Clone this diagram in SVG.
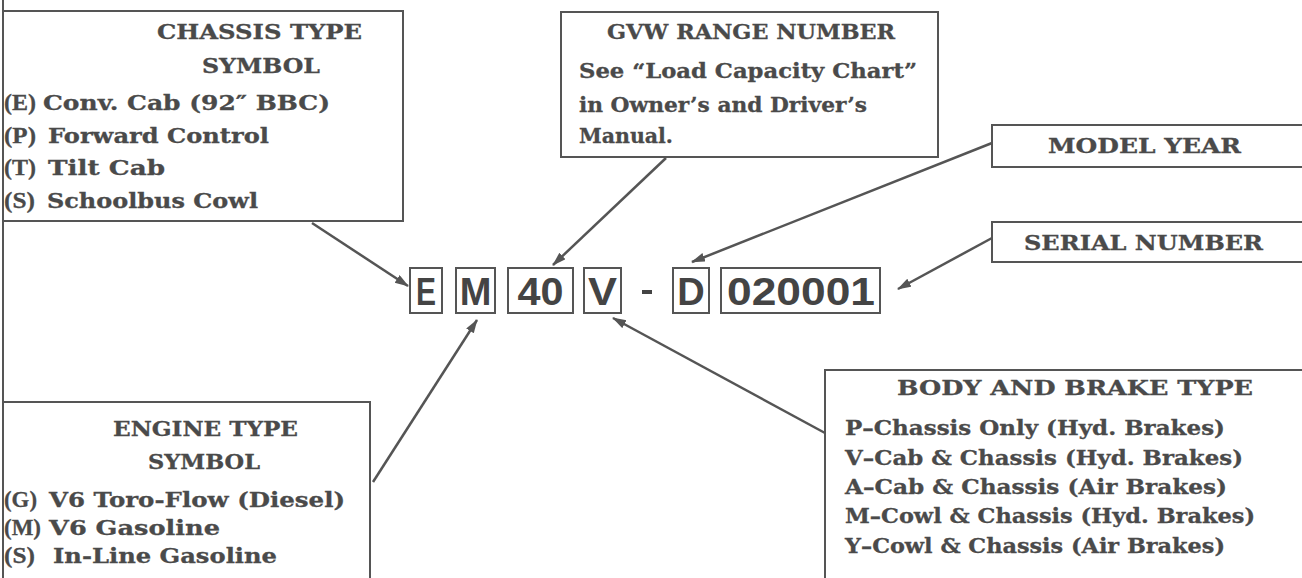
<svg xmlns="http://www.w3.org/2000/svg" width="1302" height="578" viewBox="0 0 1302 578">
<defs>
<style>
.bg{fill:#ffffff}
.box{fill:none;stroke:#555555;stroke-width:2}
.t{font-family:"DejaVu Serif","Liberation Serif",serif;font-weight:bold;font-size:20.5px;fill:#4a4a4a;stroke:#4a4a4a;stroke-width:0.3}
.k{font-family:"Liberation Serif","DejaVu Serif",serif;font-weight:bold;font-size:24px;fill:#4a4a4a;stroke:#4a4a4a;stroke-width:0.3}
.code{font-family:"Liberation Sans","DejaVu Sans",sans-serif;font-weight:bold;font-size:38px;fill:#444444;text-anchor:middle}
.cbox{fill:none;stroke:#555555;stroke-width:2}
.conn{stroke:#555555;stroke-width:2.5;fill:none;marker-end:url(#ah)}
</style>
<marker id="ah" markerUnits="userSpaceOnUse" markerWidth="14" markerHeight="10" refX="13" refY="4.5" orient="auto">
<path d="M0,0 L14,4.5 L0,9 z" fill="#555555"/>
</marker>
</defs>
<rect class="bg" x="0" y="0" width="1302" height="578"/>
<line x1="3" y1="0" x2="3" y2="578" stroke="#555555" stroke-width="2"/>

<g id="chassis">
<polyline class="box" points="3,11 403,11 403,221 3,221"/>
<text class="t" x="157" y="39" textLength="205" lengthAdjust="spacingAndGlyphs">CHASSIS  TYPE</text>
<text class="t" x="202" y="73" textLength="118" lengthAdjust="spacingAndGlyphs">SYMBOL</text>
<text class="k" x="4" y="110" textLength="32" lengthAdjust="spacingAndGlyphs">(E)</text>
<text class="t" x="43" y="110" textLength="287" lengthAdjust="spacingAndGlyphs">Conv. Cab (92″ BBC)</text>
<text class="k" x="4" y="143" textLength="32" lengthAdjust="spacingAndGlyphs">(P)</text>
<text class="t" x="48" y="143" textLength="221" lengthAdjust="spacingAndGlyphs">Forward Control</text>
<text class="k" x="4" y="175" textLength="32" lengthAdjust="spacingAndGlyphs">(T)</text>
<text class="t" x="48" y="175" textLength="117" lengthAdjust="spacingAndGlyphs">Tilt Cab</text>
<text class="k" x="4" y="208" textLength="31" lengthAdjust="spacingAndGlyphs">(S)</text>
<text class="t" x="47" y="208" textLength="211" lengthAdjust="spacingAndGlyphs">Schoolbus Cowl</text>
</g>

<g id="gvw">
<rect class="box" x="561" y="12" width="377" height="145"/>
<text class="t" x="607" y="39" textLength="288" lengthAdjust="spacingAndGlyphs">GVW RANGE NUMBER</text>
<text class="t" x="579" y="78" textLength="338" lengthAdjust="spacingAndGlyphs">See “Load Capacity Chart”</text>
<text class="t" x="579" y="112" textLength="288" lengthAdjust="spacingAndGlyphs">in Owner’s and Driver’s</text>
<text class="t" x="579" y="143" textLength="94" lengthAdjust="spacingAndGlyphs">Manual.</text>
</g>

<g id="modelyear">
<rect class="box" x="992" y="125" width="320" height="42"/>
<text class="t" x="1048" y="153" textLength="193" lengthAdjust="spacingAndGlyphs">MODEL  YEAR</text>
</g>

<g id="serial">
<rect class="box" x="992" y="222" width="320" height="40"/>
<text class="t" x="1024" y="250" textLength="239" lengthAdjust="spacingAndGlyphs">SERIAL  NUMBER</text>
</g>

<g id="engine">
<polyline class="box" points="3,402 370,402 370,580"/>
<text class="t" x="113" y="436" textLength="185" lengthAdjust="spacingAndGlyphs">ENGINE  TYPE</text>
<text class="t" x="148" y="469" textLength="112" lengthAdjust="spacingAndGlyphs">SYMBOL</text>
<text class="k" x="4" y="507" textLength="33" lengthAdjust="spacingAndGlyphs">(G)</text>
<text class="t" x="49" y="507" textLength="296" lengthAdjust="spacingAndGlyphs">V6 Toro-Flow (Diesel)</text>
<text class="k" x="4" y="535" textLength="37" lengthAdjust="spacingAndGlyphs">(M)</text>
<text class="t" x="49" y="535" textLength="171" lengthAdjust="spacingAndGlyphs">V6 Gasoline</text>
<text class="k" x="4" y="563" textLength="31" lengthAdjust="spacingAndGlyphs">(S)</text>
<text class="t" x="53" y="563" textLength="224" lengthAdjust="spacingAndGlyphs">In-Line Gasoline</text>
</g>

<g id="body">
<polyline class="box" points="825,580 825,370 1304,370"/>
<text class="t" x="897" y="395" textLength="356" lengthAdjust="spacingAndGlyphs">BODY  AND  BRAKE  TYPE</text>
<text class="t" x="845" y="435" textLength="380" lengthAdjust="spacingAndGlyphs">P–Chassis Only (Hyd. Brakes)</text>
<text class="t" x="845" y="465" textLength="398" lengthAdjust="spacingAndGlyphs">V–Cab &amp; Chassis (Hyd. Brakes)</text>
<text class="t" x="845" y="494" textLength="382" lengthAdjust="spacingAndGlyphs">A–Cab &amp; Chassis (Air Brakes)</text>
<text class="t" x="845" y="523" textLength="410" lengthAdjust="spacingAndGlyphs">M–Cowl &amp; Chassis (Hyd. Brakes)</text>
<text class="t" x="845" y="553" textLength="380" lengthAdjust="spacingAndGlyphs">Y–Cowl &amp; Chassis (Air Brakes)</text>
</g>

<g id="code">
<rect class="cbox" x="410" y="268" width="32" height="45"/>
<text class="code" x="426" y="305" textLength="20" lengthAdjust="spacingAndGlyphs">E</text>
<rect class="cbox" x="456" y="268" width="39" height="45"/>
<text class="code" x="475.5" y="305">M</text>
<rect class="cbox" x="508" y="268" width="65" height="45"/>
<text class="code" x="540.5" y="305" textLength="46" lengthAdjust="spacingAndGlyphs">40</text>
<rect class="cbox" x="584" y="268" width="37" height="45"/>
<text class="code" x="602.5" y="305" textLength="29" lengthAdjust="spacingAndGlyphs">V</text>
<rect x="642" y="290" width="10" height="4" fill="#444444"/>
<rect class="cbox" x="673" y="268" width="36" height="45"/>
<text class="code" x="691" y="305">D</text>
<rect class="cbox" x="721" y="268" width="159" height="45"/>
<text class="code" x="801" y="305" textLength="148" lengthAdjust="spacingAndGlyphs">020001</text>
</g>

<g id="connectors">
<line class="conn" x1="312" y1="223" x2="408" y2="286"/>
<line class="conn" x1="666" y1="158" x2="553" y2="265"/>
<line class="conn" x1="992" y1="143" x2="692" y2="262"/>
<line class="conn" x1="992" y1="238" x2="898" y2="289"/>
<line class="conn" x1="373" y1="482" x2="477" y2="320"/>
<line class="conn" x1="825" y1="433" x2="613" y2="318"/>
</g>
</svg>
